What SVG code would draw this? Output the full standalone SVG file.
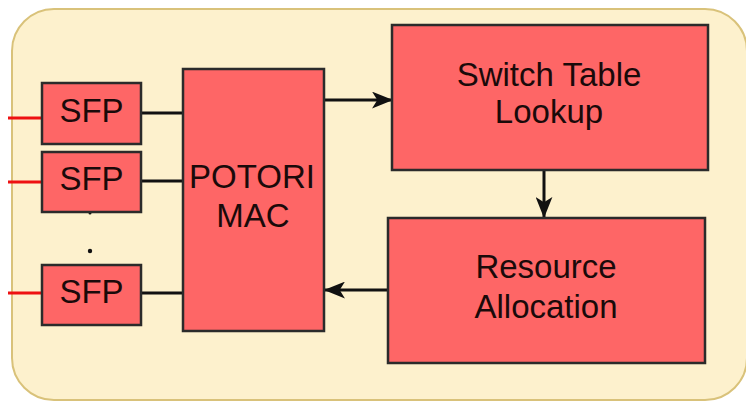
<svg xmlns="http://www.w3.org/2000/svg" width="746" height="403" viewBox="0 0 746 403">
<defs>
<style>
.box{fill:#fe6666;stroke:#2b2b2b;stroke-width:2.5}
.t{font-family:"Liberation Sans",Arial,sans-serif;font-size:33px;fill:#1a0a0a;text-anchor:middle}
.c{stroke:#111;stroke-width:3;fill:none}
.r{stroke:#ee1111;stroke-width:3}
</style>
<marker id="ah" viewBox="0 0 20 16" refX="19" refY="8" markerWidth="21" markerHeight="17" markerUnits="userSpaceOnUse" orient="auto">
<path d="M0,0 L20,8 L0,16 L5,8 Z" fill="#111"/>
</marker>
</defs>
<rect x="12" y="9" width="735" height="391" rx="42" ry="42" fill="#fdf1cd" stroke="#d9c27a" stroke-width="2"/>
<g id="connectors">
<line class="r" x1="8" y1="118" x2="42" y2="118"/>
<line class="r" x1="8" y1="182" x2="42" y2="182"/>
<line class="r" x1="8" y1="293" x2="42" y2="293"/>
<line class="c" x1="141" y1="113" x2="183" y2="113"/>
<line class="c" x1="141" y1="181" x2="183" y2="181"/>
<line class="c" x1="141" y1="293" x2="183" y2="293"/>
<line class="c" x1="324" y1="100" x2="392" y2="100" marker-end="url(#ah)"/>
<line class="c" x1="544" y1="170" x2="544" y2="217" marker-end="url(#ah)"/>
<line class="c" x1="388" y1="290" x2="325" y2="290" marker-end="url(#ah)"/>
</g>
<g id="dots">
<circle cx="90" cy="213" r="1.5" fill="#111"/>
<circle cx="90" cy="251" r="2.2" fill="#111"/>
</g>
<g id="sfp1"><rect class="box" x="42" y="83" width="99" height="61"/><text class="t" x="91.5" y="122">SFP</text></g>
<g id="sfp2"><rect class="box" x="42" y="152" width="99" height="60"/><text class="t" x="91.5" y="190">SFP</text></g>
<g id="sfp3"><rect class="box" x="42" y="265" width="99" height="60"/><text class="t" x="91.5" y="303">SFP</text></g>
<g id="mac"><rect class="box" x="183" y="69" width="141" height="262"/><text class="t" x="252" y="188">POTORI</text><text class="t" x="253" y="227">MAC</text></g>
<g id="switch"><rect class="box" x="392" y="25" width="316" height="145"/><text class="t" x="549" y="86">Switch Table</text><text class="t" x="549" y="123">Lookup</text></g>
<g id="resource"><rect class="box" x="388" y="218" width="317" height="145"/><text class="t" x="546" y="278">Resource</text><text class="t" x="546" y="318">Allocation</text></g>
</svg>
